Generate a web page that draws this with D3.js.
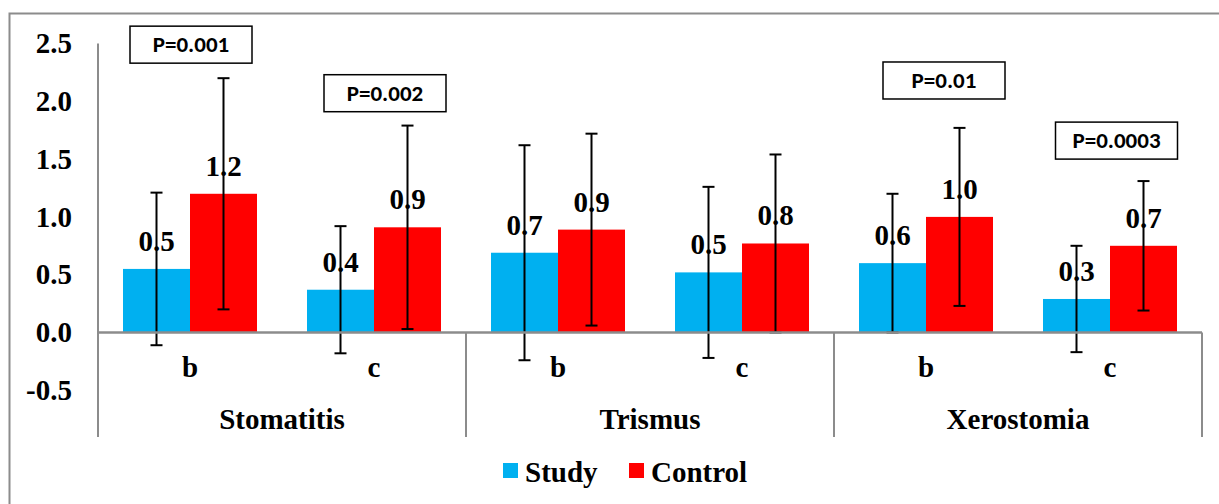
<!DOCTYPE html>
<html>
<head>
<meta charset="utf-8">
<script src="https://cdn.jsdelivr.net/npm/d3@7"></script>
<style>
  html, body { margin: 0; padding: 0; background: #fff; }
  svg { display: block; }
</style>
</head>
<body>
<svg id="chart" width="1219" height="504"></svg>
<script>
// ---- data ----
const groups = ["Stomatitis", "Trismus", "Xerostomia"];
const subCats = ["b", "c"];
const series = ["Study", "Control"];
const studyValues = [0.55, 0.37, 0.69, 0.52, 0.60, 0.29];
const controlValues = [1.20, 0.91, 0.89, 0.77, 1.00, 0.75];
const studyLabels = ["0.5", "0.4", "0.7", "0.5", "0.6", "0.3"];
const controlLabels = ["1.2", "0.9", "0.9", "0.8", "1.0", "0.7"];
const studySD = [0.66, 0.55, 0.93, 0.74, 0.60, 0.46];
const controlSD = [1.00, 0.88, 0.83, 0.77, 0.77, 0.56];
const yTicks = [-0.5, 0, 0.5, 1.0, 1.5, 2.0, 2.5];
const pTexts = ["P=0.001", "P=0.002", "P=0.01", "P=0.0003"];
const pCategory = [0, 1, 4, 5];
const pValueY = [2.49, 2.07, 2.18, 1.66];

// ---- layout ----
const colors = { Study: "#00B0F0", Control: "#FF0000" };
const pOffsetX = [1, 11, 18, 6.5];
const left = 98, right = 1202;
const serif = '"Liberation Serif"';
const sans = '"Carlito"';
const axisGray = "#8c8c8c";

const svg = d3.select("#chart");

function serifText(sel) {
  return sel.style("font-family", serif).style("font-weight", "bold")
    .style("font-size", "29px").attr("fill", "#000");
}

const cats = [];
groups.forEach(g => subCats.forEach(s => cats.push(g + "|" + s)));

const y = d3.scaleLinear().domain([-0.5, 2.5]).range([390.3, 43.5]);
const x0 = d3.scaleBand().domain(cats).range([left, right])
  .paddingInner(50 / 184).paddingOuter(25 / 184);
const x1 = d3.scaleBand().domain(series).range([0, x0.bandwidth()]);
const step = x0.step();

// outer frame (left + top)
svg.append("path")
  .attr("d", "M9.5,504 V13.5 H1219")
  .attr("fill", "none").attr("stroke", axisGray).attr("stroke-width", 2);

// y axis
const yAxis = svg.append("g")
  .attr("transform", `translate(${left},0)`)
  .call(d3.axisLeft(y).tickValues(yTicks).tickFormat(d => d.toFixed(1)).tickSize(0).tickPadding(26));
yAxis.select(".domain").remove();
yAxis.attr("font-family", null).attr("font-size", null);
serifText(yAxis.selectAll("text"));

// y axis line extended to category area
svg.append("line")
  .attr("x1", left).attr("x2", left).attr("y1", y(2.5)).attr("y2", 437)
  .attr("stroke", axisGray).attr("stroke-width", 2);

const rows = cats.map((c, i) => ({
  cat: c,
  items: [
    { s: "Study", v: studyValues[i], sd: studySD[i], label: studyLabels[i] },
    { s: "Control", v: controlValues[i], sd: controlSD[i], label: controlLabels[i] }
  ]
}));

const catG = svg.selectAll("g.cat").data(rows).join("g")
  .attr("class", "cat")
  .attr("transform", d => `translate(${x0(d.cat)},0)`);

// bars
catG.selectAll("rect").data(d => d.items).join("rect")
  .attr("x", d => x1(d.s))
  .attr("width", x1.bandwidth())
  .attr("y", d => y(Math.max(0, d.v)))
  .attr("height", d => Math.abs(y(d.v) - y(0)))
  .attr("fill", d => colors[d.s]);

// value labels
serifText(catG.selectAll("text.val").data(d => d.items).join("text")
  .attr("class", "val")
  .attr("x", d => x1(d.s) + x1.bandwidth() / 2)
  .attr("y", d => y(d.v) - 18)
  .attr("text-anchor", "middle"))
  .text(d => d.label);

// error bars
const eb = catG.selectAll("g.err").data(d => d.items).join("g")
  .attr("class", "err")
  .attr("transform", d => `translate(${x1(d.s) + x1.bandwidth() / 2},0)`)
  .attr("stroke", "#000").attr("stroke-width", 2);
eb.append("line").attr("x1", 0).attr("x2", 0)
  .attr("y1", d => y(d.v - d.sd)).attr("y2", d => y(d.v + d.sd));
eb.append("line").attr("x1", -6).attr("x2", 6)
  .attr("y1", d => y(d.v + d.sd)).attr("y2", d => y(d.v + d.sd));
eb.append("line").attr("x1", -6).attr("x2", 6)
  .attr("y1", d => y(d.v - d.sd)).attr("y2", d => y(d.v - d.sd));

// category (zero) axis line
svg.append("line")
  .attr("x1", left).attr("x2", right).attr("y1", y(0)).attr("y2", y(0))
  .attr("stroke", axisGray).attr("stroke-width", 2.5);

// group separators
const sepX = d3.range(groups.length + 1).map(i => left + i * step * subCats.length);
svg.selectAll("line.sep").data(sepX).join("line")
  .attr("class", "sep")
  .attr("x1", d => d).attr("x2", d => d)
  .attr("y1", y(0)).attr("y2", 437)
  .attr("stroke", axisGray).attr("stroke-width", 2);

// sub-category labels
serifText(svg.selectAll("text.sub").data(cats).join("text")
  .attr("class", "sub")
  .attr("x", d => x0(d) + x0.bandwidth() / 2)
  .attr("y", 377)
  .attr("text-anchor", "middle"))
  .text(d => d.split("|")[1]);

// group labels
serifText(svg.selectAll("text.grp").data(groups).join("text")
  .attr("class", "grp")
  .attr("x", (d, i) => left + (i + 0.5) * step * subCats.length)
  .attr("y", 429)
  .attr("text-anchor", "middle"))
  .text(d => d);

// P-value boxes
const pData = pTexts.map((t, i) => ({ t, c: cats[pCategory[i]], v: pValueY[i], dx: pOffsetX[i] }));
const pG = svg.selectAll("g.p").data(pData).join("g")
  .attr("class", "p")
  .attr("transform", d => `translate(${x0(d.c) + x0.bandwidth() / 2 + d.dx},${y(d.v)})`);
pG.append("rect")
  .attr("x", -61).attr("y", -18.5).attr("width", 122).attr("height", 37)
  .attr("fill", "#fff").attr("stroke", "#000").attr("stroke-width", 1.5);
pG.append("text")
  .attr("text-anchor", "middle").attr("dy", "0.34em")
  .style("font-family", sans).style("font-weight", "bold").style("font-size", "23px")
  .text(d => d.t);

// legend
const legendX = [503, 629];
const lg = svg.selectAll("g.leg").data(series).join("g")
  .attr("class", "leg")
  .attr("transform", (d, i) => `translate(${legendX[i]},463)`);
lg.append("rect").attr("width", 15).attr("height", 15).attr("fill", d => colors[d]);
serifText(lg.append("text").attr("x", 22).attr("y", 19)).text(d => d);
</script>
</body>
</html>
